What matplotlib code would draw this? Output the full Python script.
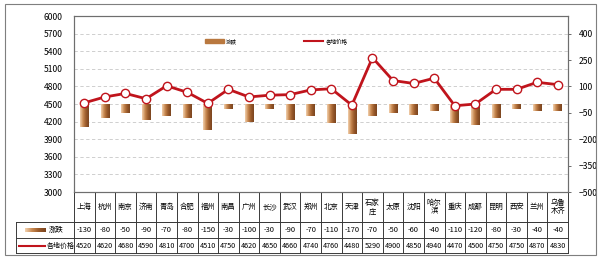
import matplotlib
matplotlib.use("Agg")
import matplotlib.pyplot as plt
from matplotlib.lines import Line2D
from matplotlib.patches import Rectangle
from matplotlib.colors import LinearSegmentedColormap
import numpy as np

plt.rcParams['font.family'] = ['Noto Sans CJK SC', 'DejaVu Sans']

cities = ["上海", "杭州", "南京", "济南", "青岛", "合肥", "福州", "南昌", "广州", "长沙",
          "武汉", "郑州", "北京", "天津", "石家\n庄", "太原", "沈阳", "哈尔\n滨", "重庆",
          "成都", "昆明", "西安", "兰州", "乌鲁\n木齐"]
change = [-130, -80, -50, -90, -70, -80, -150, -30, -100, -30, -90, -70, -110, -170,
          -70, -50, -60, -40, -110, -120, -80, -30, -40, -40]
price = [4520, 4620, 4680, 4590, 4810, 4700, 4510, 4750, 4620, 4650, 4660, 4740, 4760,
         4480, 5290, 4900, 4850, 4940, 4470, 4500, 4750, 4750, 4870, 4830]
left_ticks = list(range(3000, 6001, 300))
right_ticks = list(range(-500, 401, 150))
bar_label = "涨跌"
line_label = "各地价格"

W, H = 600, 259
fig = plt.figure(figsize=(6, 2.59), dpi=100)
fig.add_artist(Rectangle((5 / W, 4 / H), 591 / W, 251 / H, transform=fig.transFigure,
                         fill=False, edgecolor='#7f7f7f', linewidth=0.8))

ax_l, ax_r, ax_t, ax_b = 74, 568, 16, 192
ax = fig.add_axes([ax_l / W, 1 - ax_b / H, (ax_r - ax_l) / W, (ax_b - ax_t) / H])
ax2 = ax.twinx()

n = len(cities)
x = np.arange(n)
bar_color = '#b9783f'
line_color = '#c0141c'
cmap = LinearSegmentedColormap.from_list('copper_grad', ['#f3d2b0', '#c98a52', '#9a5a2a', '#7a4420'])
grad = np.linspace(0, 1, 64).reshape(1, -1)

bars = ax2.bar(x, change, width=0.42, color='none', edgecolor='none', zorder=2)
for b in bars:
    x0, y0 = b.get_x(), b.get_y()
    w, h = b.get_width(), b.get_height()
    im = ax2.imshow(grad, cmap=cmap, aspect='auto', extent=[x0, x0 + w, y0, y0 + h],
                    zorder=2, interpolation='bicubic')
    im.set_clip_path(b)
ax2.set_xlim(-0.5, n - 0.5)
ax2.set_ylim(-500, 500)
ax2.set_yticks(right_ticks)
ax2.tick_params(axis='y', labelsize=6.2, length=2.5, width=0.6, color='#555555', pad=5)

ax.set_zorder(ax2.get_zorder() + 1)
ax.patch.set_visible(False)
ax.plot(x, price, color=line_color, linewidth=2.0, marker='o', markersize=6,
        markerfacecolor='white', markeredgecolor=line_color, markeredgewidth=1.0, zorder=3)
ax.set_ylim(3000, 6000)
ax.set_yticks(left_ticks)
ax.set_xlim(-0.5, n - 0.5)
ax.set_xticks([])
ax.tick_params(axis='y', labelsize=6.2, length=0, pad=8)
for t in left_ticks[1:-1]:
    ax2.axhline(-500 + (t - 3000) / 3, color='#c8c8c8', linestyle=(0, (4, 3)), linewidth=0.6, zorder=0)

for a in (ax, ax2):
    for s in a.spines.values():
        s.set_color('#6e6e6e')
        s.set_linewidth(0.8)

legend_handles = [Rectangle((0, 0), 1, 1, color=bar_color),
                  Line2D([0], [0], color=line_color, linewidth=1.5)]
fig.legend(legend_handles, [bar_label, line_label], loc='center',
           bbox_to_anchor=(0.46, 1 - 41 / H), ncol=2, frameon=False, fontsize=4,
           columnspacing=12, handlelength=3.5, handleheight=0.6, handletextpad=0.4)

tr = ax.get_xaxis_transform()
px = (ax_b - ax_t)
def yf(py):
    return (ax_b - py) / px
label_left = (16 - ax_l) / ((ax_r - ax_l) / n) - 0.5
gc = '#3a3a3a'
lw = 0.7
ax.add_line(Line2D([-0.5, n - 0.5], [yf(222)] * 2, transform=tr, color=gc, lw=lw, clip_on=False))
for py in (222, 238, 253):
    ax.add_line(Line2D([label_left, n - 0.5], [yf(py)] * 2, transform=tr, color=gc, lw=lw, clip_on=False))
for i in range(n + 1):
    ax.add_line(Line2D([i - 0.5, i - 0.5], [yf(192), yf(253)], transform=tr, color=gc, lw=lw, clip_on=False))
ax.add_line(Line2D([label_left] * 2, [yf(222), yf(253)], transform=tr, color=gc, lw=lw, clip_on=False))

for i in range(n):
    ax.text(i, yf(207), cities[i], transform=tr, ha='center', va='center', fontsize=5.3,
            linespacing=1.1, clip_on=False)
    ax.text(i, yf(230), str(change[i]), transform=tr, ha='center', va='center', fontsize=5.4, clip_on=False)
    ax.text(i, yf(245.5), str(price[i]), transform=tr, ha='center', va='center', fontsize=5.2, clip_on=False)

key = ax.add_patch(Rectangle((label_left + 0.45, yf(232)), 1.0, yf(228) - yf(232), transform=tr,
                             color='none', clip_on=False))
kim = ax.imshow(np.linspace(0, 1, 64).reshape(1, -1), cmap=cmap, aspect='auto',
                extent=[label_left + 0.45, label_left + 1.45, yf(232), yf(228)],
                transform=tr, clip_on=False)
kim.set_clip_path(key)
ax.set_xlim(-0.5, n - 0.5)
ax.set_ylim(3000, 6000)
ax.text(label_left + 1.6, yf(230), bar_label, transform=tr, ha='left', va='center', fontsize=5.3, clip_on=False)
ax.add_line(Line2D([label_left + 0.15, label_left + 1.4], [yf(245.5)] * 2, transform=tr,
                   color=line_color, lw=1.5, clip_on=False))
ax.text(label_left + 1.5, yf(245.5), line_label, transform=tr, ha='left', va='center', fontsize=5.0, clip_on=False)

fig.savefig("out.png", dpi=100)
